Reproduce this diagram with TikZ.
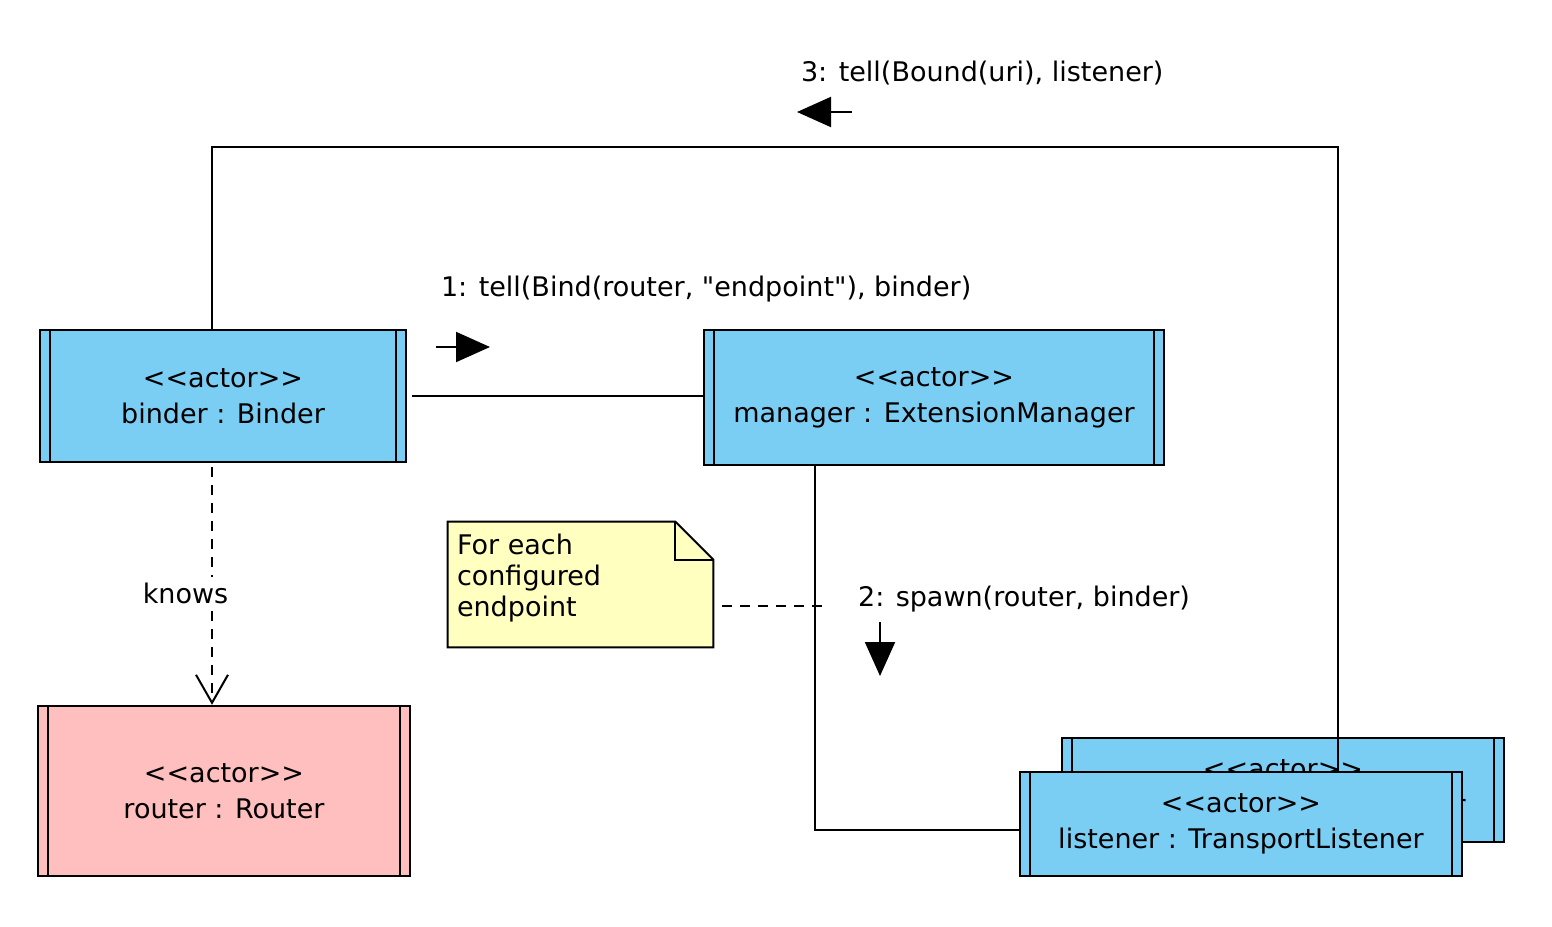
\documentclass[tikz,border=0pt]{standalone}
\usepackage{fontspec}
\setmainfont{DejaVu Sans}[Ligatures=TeXOff]
\usetikzlibrary{arrows.meta,calc}
\definecolor{actorblue}{RGB}{122,206,244}
\definecolor{actorpink}{RGB}{255,191,191}
\definecolor{noteyellow}{RGB}{255,255,192}
\newcommand{\stereo}{{<}{<}actor{>}{>}}

\begin{document}
\begin{tikzpicture}[x=0.5pt,y=-0.5pt,font=\fontsize{13.5}{18}\selectfont,
	actor/.style={draw,rectangle,line width=1.2pt,fill=actorblue,align=center,inner sep=0pt,
		path picture={\draw[line width=1.2pt]
			([xshift=5pt]path picture bounding box.south west) -- ([xshift=5pt]path picture bounding box.north west)
			([xshift=-5pt]path picture bounding box.south east) -- ([xshift=-5pt]path picture bounding box.north east);}},
	link/.style={line width=1pt},
	msg/.style={line width=1pt,-{Triangle[length=17pt,width=15pt]}},
	dep/.style={line width=1pt,dash pattern=on 5pt off 4pt}]
		\useasboundingbox (0,0) rectangle (1552,926);
		\coordinate (bx)   at (212,0);
		\coordinate (mx)   at (815,0);
		\coordinate (topr) at (1338,147);
		\node (binder)  [actor,minimum width=183pt,minimum height=66pt] at (223,396) {\stereo\\binder : Binder};
		\node (manager) [actor,minimum width=230pt,minimum height=67.5pt] at (934,397.5) {\stereo\\manager : ExtensionManager};
		\node (router)  [actor,fill=actorpink,minimum width=186pt,minimum height=85pt] at (224,791) {\stereo\\router : Router};
		\node (listenerback) [actor,minimum width=221pt,minimum height=52pt] at (1283,790) {\stereo\\listener : TransportListener};
		\node (listener)     [actor,minimum width=221pt,minimum height=52pt] at (1241,824) {\stereo\\listener : TransportListener};
		\node (note) [minimum width=132.5pt,minimum height=62.5pt,inner sep=0pt] at (580.5,584.5) {};
		\filldraw [line width=1pt,fill=noteyellow] (note.north west) -- ([xshift=-19pt]note.north east) -- ([yshift=-19pt]note.north east) -- (note.south east) -- (note.south west) -- cycle;
		\draw [line width=1pt] ([xshift=-19pt]note.north east) |- ([yshift=-19pt]note.north east);
		\node (notetext) [anchor=north west,align=left,inner sep=0pt,font=\fontsize{13.5}{15.5}\selectfont] at ([xshift=4.5pt,yshift=-6pt]note.north west) {For each\\configured\\endpoint};
		\draw [link] ([xshift=2.5pt]binder.east) -- (binder.east -| manager.west);
		\draw [link] (manager.south -| mx) |- ([yshift=-3pt]listener.west);
		\draw [link] (binder.north -| bx) |- (topr) -- (topr |- listener.north);
		\draw [dep,-{Straight Barb[length=14pt,width=16pt]}] ([yshift=-2pt]binder.south -| bx) -- (router.north -| bx)
			node [pos=0.53,fill=white,xshift=-13.25pt,inner sep=3pt] {knows};
		\coordinate (n2) at (830,606);
		\draw [dep] (note.east |- n2) ++(9,0) -- (n2);
		\coordinate (m1a) at (436,347);
		\coordinate (m1b) at (490,347);
		\draw [msg] (m1a) -- (m1b);
		\node (lbl1) [anchor=west] at (434,289) {1: tell(Bind(router, "endpoint"), binder)};
		\coordinate (m2a) at (880,622);
		\coordinate (m2b) at (880,676);
		\draw [msg] (m2a) -- (m2b);
		\node (lbl2) [anchor=west] at (851,599) {2: spawn(router, binder)};
		\coordinate (m3a) at (852,112);
		\coordinate (m3b) at (797,112);
		\draw [msg] (m3a) -- (m3b);
		\node (lbl3) [anchor=west] at (794,73) {3: tell(Bound(uri), listener)};
	\end{tikzpicture}
\end{document}
